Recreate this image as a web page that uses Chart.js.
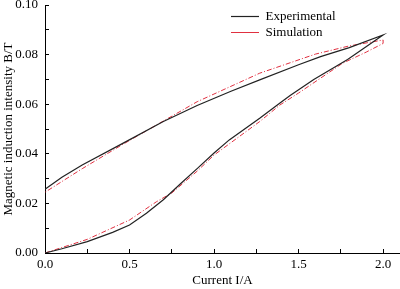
<!DOCTYPE html>
<html lang="en">
<head>
    <meta charset="UTF-8">
    <title>Magnetic induction vs current</title>
    <script src="https://cdn.jsdelivr.net/npm/chart.js"></script>
    <style>
        html, body { margin: 0; padding: 0; background: #fff; }
        .chart-container { position: relative; width: 400px; height: 289px; }
    </style>
</head>
<body>
    <div class="chart-container">
        <canvas id="loopChart"></canvas>
    </div>

    <script>
        // Experimental loop: rising branch, then falling branch
        const expCurrent = [0, 0.1, 0.25, 0.4, 0.5, 0.6, 0.7, 0.8, 0.9, 1.0, 1.09, 1.27, 1.39, 1.45, 1.59, 1.79, 2.0,
                            1.8, 1.63, 1.5, 1.27, 1.1, 0.9, 0.7, 0.46, 0.22, 0.1, 0];
        const expB = [0, 0.0017, 0.0046, 0.0083, 0.0113, 0.0160, 0.0215, 0.0278, 0.0340, 0.0403, 0.0456, 0.0543, 0.0605, 0.0635, 0.0700, 0.0780, 0.0879,
                      0.0828, 0.0792, 0.0759, 0.0698, 0.0652, 0.0595, 0.0530, 0.0442, 0.0355, 0.0305, 0.0257];

        // Simulation loop
        const simCurrent = [0, 0.25, 0.5, 0.66, 0.75, 0.9, 1.0, 1.27, 1.39, 1.5, 1.76, 1.9, 2.0,
                            2.0, 1.8, 1.6, 1.27, 0.9, 0.7, 0.46, 0.22, 0];
        const simB = [0, 0.0055, 0.0133, 0.0207, 0.0242, 0.0330, 0.0395, 0.0530, 0.0597, 0.0645, 0.0765, 0.0810, 0.0845,
                      0.0859, 0.0835, 0.0802, 0.0725, 0.0610, 0.0532, 0.0438, 0.0340, 0.0245];

        const xTicks = [0, 0.5, 1.0, 1.5, 2.0];
        const yTicks = [0, 0.02, 0.04, 0.06, 0.08, 0.10];

        const serif = "'Liberation Serif', 'Times New Roman', serif";

        const toPoints = (xs, ys) => xs.map((x, i) => ({ x: x, y: ys[i] }));

        // put the legend inside the plot, upper middle
        const moveLegend = {
            id: 'moveLegend',
            afterLayout(chart) {
                chart.legend.left = 228;
                chart.legend.top = 7;
            }
        };

        new Chart(document.getElementById('loopChart').getContext('2d'), {
            type: 'scatter',
            data: {
                datasets: [{
                    label: 'Experimental',
                    data: toPoints(expCurrent, expB),
                    showLine: true,
                    borderColor: '#222',
                    backgroundColor: '#222',
                    borderWidth: 1.2,
                    pointRadius: 0,
                    tension: 0
                }, {
                    label: 'Simulation',
                    data: toPoints(simCurrent, simB),
                    showLine: true,
                    borderColor: '#e03040',
                    backgroundColor: '#e03040',
                    borderWidth: 1,
                    borderDash: [5, 2, 1, 2],
                    pointRadius: 0,
                    tension: 0
                }]
            },
            options: {
                responsive: true,
                maintainAspectRatio: false,
                animation: false,
                layout: { padding: 0, autoPadding: false },
                plugins: {
                    legend: {
                        position: 'chartArea',
                        align: 'start',
                        labels: {
                            usePointStyle: true,
                            pointStyle: 'line',
                            pointStyleWidth: 28,
                            padding: 3,
                            color: '#000',
                            font: { family: serif, size: 13 }
                        }
                    },
                    tooltip: { enabled: false }
                },
                scales: {
                    x: {
                        type: 'linear',
                        min: 0,
                        max: 2.1,
                        grid: { drawOnChartArea: false, tickLength: -4, color: '#000' },
                        border: { color: '#000', width: 1 },
                        ticks: {
                            stepSize: 0.25,
                            includeBounds: false,
                            padding: 8,
                            color: '#000',
                            maxRotation: 0,
                            autoSkip: false,
                            font: { family: serif, size: 13 },
                            callback: v => xTicks.some(t => Math.abs(t - v) < 1e-6) ? v.toFixed(1) : ''
                        },
                        title: {
                            display: true,
                            text: 'Current I/A',
                            color: '#000',
                            padding: { top: 0, bottom: 1 },
                            font: { family: serif, size: 13 }
                        },
                        afterFit(scale) {
                            scale.height = 36;
                            scale.paddingRight = 0;
                        }
                    },
                    y: {
                        min: 0,
                        max: 0.1,
                        grid: { drawOnChartArea: false, tickLength: -4, color: '#000' },
                        border: { color: '#000', width: 1 },
                        ticks: {
                            stepSize: 0.01,
                            includeBounds: false,
                            padding: 11,
                            color: '#000',
                            autoSkip: false,
                            font: { family: serif, size: 13, lineHeight: 1 },
                            callback: v => yTicks.some(t => Math.abs(t - v) < 1e-6) ? v.toFixed(2) : ''
                        },
                        title: {
                            display: true,
                            text: 'Magnetic induction intensity B/T',
                            color: '#000',
                            padding: { top: 1, bottom: 0 },
                            font: { family: serif, size: 13 }
                        },
                        afterFit(scale) {
                            scale.width = 45;
                            scale.paddingTop = 5;
                            scale.paddingBottom = 0;
                        }
                    }
                }
            },
            plugins: [moveLegend]
        });
    </script>
</body>
</html>
